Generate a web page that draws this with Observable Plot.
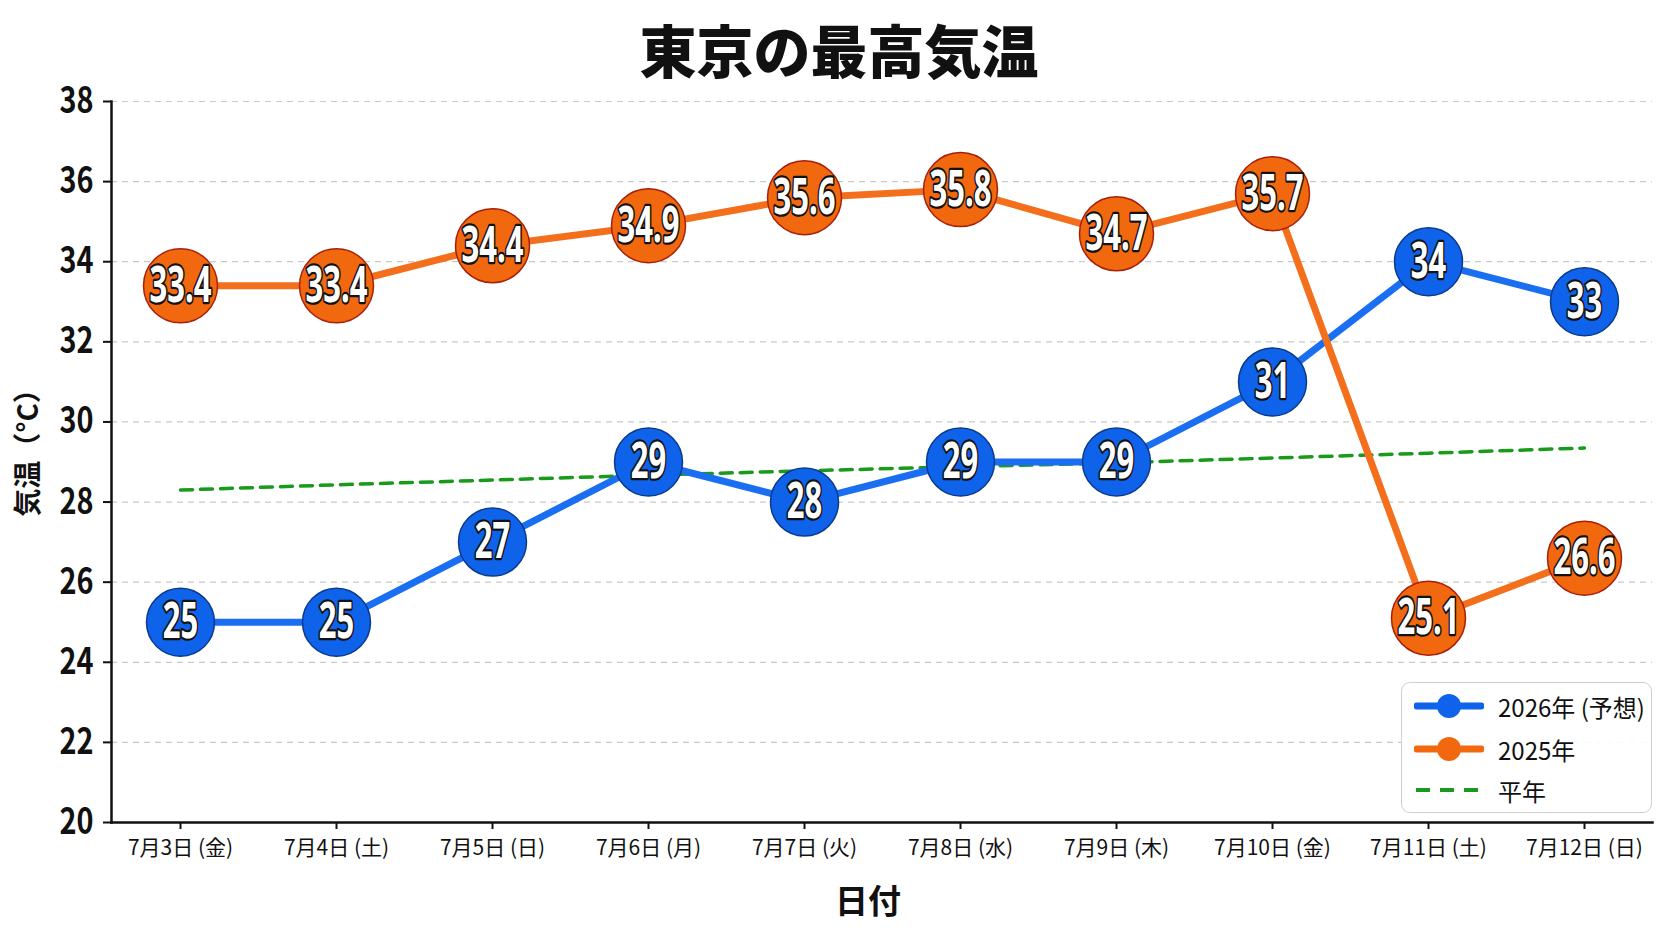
<!DOCTYPE html>
<html lang="ja">
<head>
<meta charset="utf-8">
<script src="https://cdn.jsdelivr.net/npm/d3@7"></script>
<script src="https://cdn.jsdelivr.net/npm/@observablehq/plot@0.6"></script>
<style>
  html, body { margin: 0; padding: 0; background: #fff; }
  #wrap { position: relative; width: 1672px; height: 941px; overflow: hidden; font-family: "Noto Sans CJK JP", "Noto Sans", sans-serif; }
  #title { position: absolute; left: 0; top: 17px; width: 1678px; text-align: center; font-size: 57px; line-height: 62px; font-weight: 900; color: #111; font-family: "Noto Sans CJK JP", sans-serif; }
  #chart { position: absolute; left: 0; top: 80px; }
  #chart svg { overflow: visible; }
  g[aria-label="y-axis label"] { font-size: 28px; font-weight: 700; }
  g[aria-label="x-axis label"] { font-size: 33px; font-weight: 700; }
  g[aria-label="y-axis tick label"] { font-weight: 700; }
  #legend { position: absolute; left: 1401px; top: 682px; width: 249px; height: 129px; border: 1.5px solid #cfcfcf; border-radius: 9px; background: rgba(255,255,255,0.9); }
  .row { position: absolute; left: 0; height: 30px; display: flex; align-items: center; }
  .row svg { margin-left: 12px; }
  .row span { margin-left: 14px; font-size: 24px; color: #111; font-family: "Noto Sans CJK JP", sans-serif; }
</style>
</head>
<body>
<div id="wrap">
  <div id="title">東京の最高気温</div>
  <div id="chart"></div>
  <div id="legend"></div>
</div>
<script>
// ---- data ----
const days = ["7月3日 (金)", "7月4日 (土)", "7月5日 (日)", "7月6日 (月)", "7月7日 (火)", "7月8日 (水)", "7月9日 (木)", "7月10日 (金)", "7月11日 (土)", "7月12日 (日)"];
const forecast2026 = [25, 25, 27, 29, 28, 29, 29, 31, 34, 33];
const actual2025 = [33.4, 33.4, 34.4, 34.9, 35.6, 35.8, 34.7, 35.7, 25.1, 26.6];
const normalTemp = [28.3, 28.43, 28.55, 28.67, 28.78, 28.88, 28.98, 29.1, 29.22, 29.35];
const yTicks = [20, 22, 24, 26, 28, 30, 32, 34, 36, 38];
const seriesNames = ["2026年 (予想)", "2025年", "平年"];
const seriesColors = ["#0f63ea", "#f2680f", "#1a9a1a"];

const rows2026 = days.map((d, i) => ({day: d, v: forecast2026[i]}));
const rows2025 = days.map((d, i) => ({day: d, v: actual2025[i]}));
const rowsNormal = days.map((d, i) => ({day: d, v: normalTemp[i]}));

const labelFont = '"Noto Sans", "DejaVu Sans", sans-serif';

const chart = Plot.plot({
  width: 1672,
  height: 861,
  marginTop: 21,
  marginBottom: 119,
  marginLeft: 111,
  marginRight: 20,
  style: {fontFamily: '"Noto Sans CJK JP", "Noto Sans", sans-serif', background: "white", color: "#111"},
  x: {type: "point", domain: days, padding: 0.414},
  y: {domain: [20, 38]},
  marks: [
    Plot.gridY(yTicks, {stroke: "#c9c9c9", strokeOpacity: 1, strokeWidth: 1.2, strokeDasharray: "6,5"}),
    Plot.line(rowsNormal, {x: "day", y: "v", stroke: seriesColors[2], strokeWidth: 3.5, strokeDasharray: "12,8"}),
    Plot.line(rows2026, {x: "day", y: "v", stroke: "#1a6ef2", strokeWidth: 7}),
    Plot.line(rows2025, {x: "day", y: "v", stroke: "#f36f1c", strokeWidth: 7}),
    Plot.dot(rows2026, {x: "day", y: "v", r: 34, fill: seriesColors[0], stroke: "#0a3a8c", strokeWidth: 1.5}),
    Plot.dot(rows2025, {x: "day", y: "v", r: 37, fill: seriesColors[1], stroke: "#a8200c", strokeWidth: 1.5}),
    Plot.text(rows2026, {x: "day", y: "v", text: d => String(d.v), fill: "white", stroke: "#111", strokeWidth: 4.5, fontSize: 50, fontWeight: "bold", fontFamily: labelFont, className: "vlabel"}),
    Plot.text(rows2025, {x: "day", y: "v", text: d => d.v.toFixed(1), fill: "white", stroke: "#111", strokeWidth: 4.5, fontSize: 50, fontWeight: "bold", fontFamily: labelFont, className: "vlabel"}),
    Plot.axisY({ticks: yTicks, tickSize: 8, tickPadding: 10, fontSize: 36, strokeWidth: 2, label: "気温（°C）", labelAnchor: "center", labelArrow: "none", labelOffset: 93}),
    Plot.axisX({tickSize: 7, tickPadding: 11, fontSize: 21, strokeWidth: 2, label: "日付", labelAnchor: "center", labelArrow: "none", labelOffset: 90}),
    Plot.frame({anchor: "left", stroke: "#111", strokeWidth: 2.5}),
    Plot.frame({anchor: "bottom", stroke: "#111", strokeWidth: 2.5})
  ]
});
document.getElementById("chart").appendChild(chart);

// condense text horizontally (no condensed font installed) without touching positions
function condense(sel, s) {
  chart.querySelectorAll(sel).forEach(t => {
    const len = t.getComputedTextLength();
    if (len > 0) {
      t.setAttribute("textLength", (len * s).toFixed(1));
      t.setAttribute("lengthAdjust", "spacingAndGlyphs");
    }
  });
}
condense(".vlabel text", 0.62);
condense('g[aria-label="y-axis tick label"] text', 0.8);

// small label nudges as in the reference
function nudge(sel, dx, dy) {
  const g = chart.querySelector(sel);
  if (g) g.setAttribute("transform", `translate(${dx},${dy}) ` + (g.getAttribute("transform") || ""));
}
nudge('g[aria-label="x-axis label"]', -14, 0);
nudge('g[aria-label="y-axis label"]', 0, -16);

// ---- legend ----
const legend = document.getElementById("legend");
const rowTops = [8, 51, 92];
seriesNames.forEach((name, i) => {
  const row = document.createElement("div");
  row.className = "row";
  row.style.top = rowTops[i] + "px";
  const sw = i < 2
    ? `<svg width="70" height="30"><line x1="3" y1="15" x2="67" y2="15" stroke="${seriesColors[i]}" stroke-width="7" stroke-linecap="round"/><circle cx="35" cy="15" r="12" fill="${seriesColors[i]}"/></svg>`
    : `<svg width="70" height="30"><line x1="2" y1="15" x2="68" y2="15" stroke="${seriesColors[i]}" stroke-width="4" stroke-dasharray="14,10"/></svg>`;
  row.innerHTML = sw + `<span>${name}</span>`;
  legend.appendChild(row);
});
</script>
</body>
</html>
